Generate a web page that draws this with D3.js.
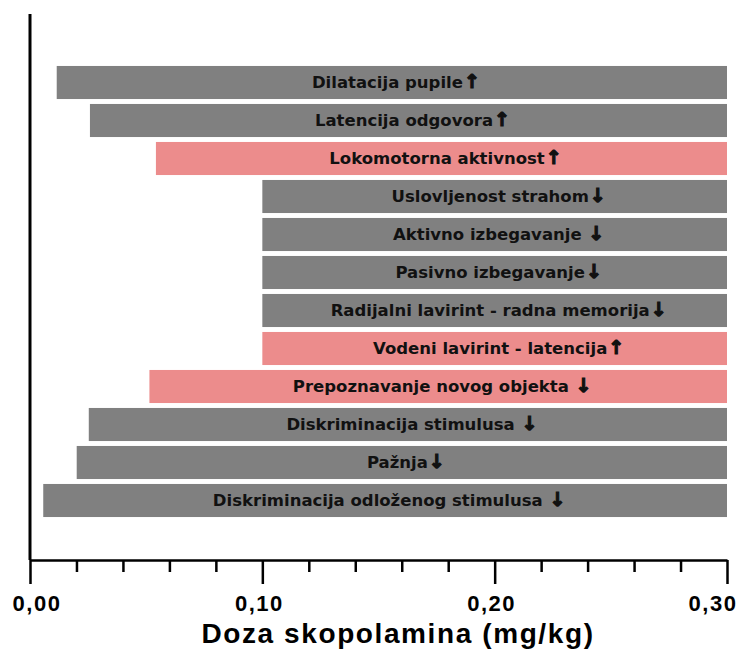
<!DOCTYPE html>
<html>
<head>
<meta charset="utf-8">
<script src="https://cdn.jsdelivr.net/npm/d3@7"></script>
<style>
  body { margin: 0; background: #fff; }
</style>
</head>
<body>
<div id="chart"></div>
<script>
// efekti skopolamina - podaci sa slike
const categories = [
  "Dilatacija pupile",
  "Latencija odgovora",
  "Lokomotorna aktivnost",
  "Uslovljenost strahom",
  "Aktivno izbegavanje ",
  "Pasivno izbegavanje",
  "Radijalni lavirint - radna memorija",
  "Vodeni lavirint - latencija",
  "Prepoznavanje novog objekta ",
  "Diskriminacija stimulusa ",
  "Pažnja",
  "Diskriminacija odloženog stimulusa "
]
const startDose = [0.0115, 0.0258, 0.0542, 0.10, 0.10, 0.10, 0.10, 0.10, 0.0514, 0.0253, 0.0201, 0.0057]
const endDose = [0.30, 0.30, 0.30, 0.30, 0.30, 0.30, 0.30, 0.30, 0.30, 0.30, 0.30, 0.30]
const direction = ["up", "up", "up", "down", "down", "down", "down", "up", "down", "down", "down", "down"]
const highlighted = [false, false, true, false, false, false, false, true, true, false, false, false]
const majorTicks = [0, 0.10, 0.20, 0.30]
const minorTicks = [0.02, 0.04, 0.06, 0.08, 0.12, 0.14, 0.16, 0.18, 0.22, 0.24, 0.26, 0.28]
const xTitle = "Doza skopolamina (mg/kg)"

const width = 743
const height = 652
const axisY = 560

const svg = d3.select("#chart").append("svg")
    .attr("width", width)
    .attr("height", height)

const xScale = d3.scaleLinear()
    .domain([0, 0.30])
    .range([30, 727])

const yScale = d3.scaleBand()
    .domain(categories)
    .range([63.5, 519.5])
    .paddingInner(0.13)
    .paddingOuter(0.065)

const data = categories.map((c, i) => ({
    name: c, start: startDose[i], end: endDose[i], dir: direction[i], hi: highlighted[i]
}))

// bars
svg.append("g").selectAll("rect")
    .data(data)
    .join("rect")
    .attr("x", d => xScale(d.start))
    .attr("y", d => yScale(d.name))
    .attr("width", d => xScale(d.end) - xScale(d.start))
    .attr("height", yScale.bandwidth())
    .attr("fill", d => d.hi ? "#ec8c8c" : "#808080")

// labels in the bars
const labels = svg.append("g").selectAll("text")
    .data(data)
    .join("text")
    .attr("x", d => (xScale(d.start) + xScale(d.end)) / 2 + 4)
    .attr("y", d => yScale(d.name) + yScale.bandwidth() / 2)
    .attr("dy", "0.36em")
    .attr("text-anchor", "middle")
    .style("font-family", "'DejaVu Sans', Verdana, sans-serif")
    .style("font-weight", "bold")
    .style("font-size", "16.5px")
    .style("white-space", "pre")
    .style("fill", "#111")

labels.append("tspan").text(d => d.name)
labels.append("tspan")
    .attr("dx", 1)
    .style("font-size", "19px")
    .style("stroke", "#111")
    .style("stroke-width", 1.2)
    .text(d => d.dir === "up" ? "\u2191" : "\u2193")

// y axis line
svg.append("line")
    .attr("x1", 30).attr("x2", 30)
    .attr("y1", 14).attr("y2", axisY)
    .attr("stroke", "#000")
    .attr("stroke-width", 3)

// x axis
const xAxis = svg.append("g")
    .attr("transform", "translate(0," + axisY + ")")
    .call(d3.axisBottom(xScale).tickValues(majorTicks).tickSize(24).tickSizeOuter(0).tickFormat(""))

xAxis.select(".domain").attr("stroke-width", 2.5)
xAxis.selectAll(".tick line").attr("stroke-width", 2.5)

const minorAxis = svg.append("g")
    .attr("transform", "translate(0," + axisY + ")")
    .call(d3.axisBottom(xScale).tickValues(minorTicks).tickSize(12).tickSizeOuter(0).tickFormat(""))
minorAxis.select(".domain").remove()
minorAxis.selectAll(".tick line").attr("stroke-width", 2.5)

// tick labels (kept inside the picture at both ends)
svg.append("g").selectAll("text")
    .data(majorTicks)
    .join("text")
    .attr("x", d => Math.min(Math.max(xScale(d) - 3, 37), 713))
    .attr("y", 611)
    .attr("text-anchor", "middle")
    .style("font-family", "'Liberation Sans', Arial, sans-serif")
    .style("font-weight", "bold")
    .style("font-size", "22px")
    .style("letter-spacing", "1.5px")
    .text(d => d3.format(".2f")(d).replace(".", ","))

// axis title
svg.append("text")
    .attr("x", 398)
    .attr("y", 643)
    .attr("text-anchor", "middle")
    .style("font-family", "'Liberation Sans', Arial, sans-serif")
    .style("font-weight", "bold")
    .style("font-size", "28px")
    .style("letter-spacing", "1.6px")
    .text(xTitle)
</script>
</body>
</html>
